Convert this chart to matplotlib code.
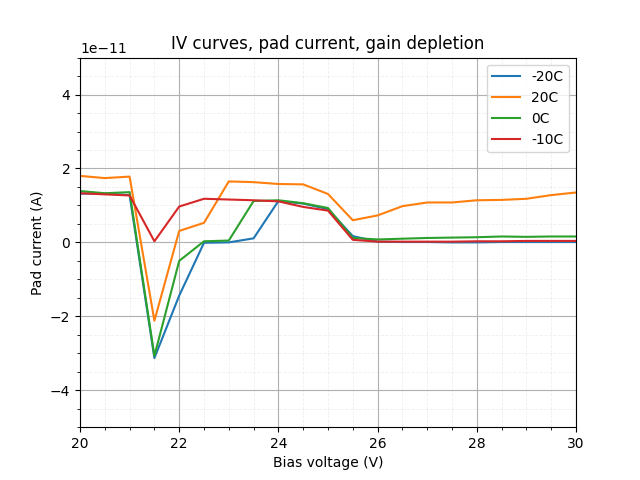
import numpy as np
import matplotlib
matplotlib.use("Agg")
import matplotlib.pyplot as plt

# bias voltage steps (V)
bias = [20.0, 20.5, 21.0, 21.5, 22.0, 22.5, 23.0, 23.5, 24.0, 24.5, 25.0,
        25.5, 26.0, 26.5, 27.0, 27.5, 28.0, 28.5, 29.0, 29.5, 30.0]

# pad current, units of 1e-11 A
i_m20 = [1.32, 1.32, 1.28, -3.13, -1.44, -0.01, 0.00, 0.11, 1.12, 1.05, 0.90,
         0.17, 0.02, 0.01, 0.01, 0.00, 0.00, 0.01, 0.01, 0.01, 0.01]
i_p20 = [1.80, 1.74, 1.78, -2.12, 0.31, 0.53, 1.65, 1.63, 1.58, 1.57, 1.31,
         0.60, 0.73, 0.98, 1.08, 1.08, 1.14, 1.15, 1.18, 1.28, 1.35]
i_0 = [1.39, 1.33, 1.36, -3.07, -0.50, 0.03, 0.05, 1.12, 1.14, 1.06, 0.93,
       0.12, 0.08, 0.10, 0.12, 0.13, 0.14, 0.16, 0.15, 0.16, 0.16]
i_m10 = [1.33, 1.30, 1.27, 0.03, 0.97, 1.18, 1.16, 1.14, 1.11, 0.96, 0.86,
         0.07, 0.02, 0.02, 0.02, 0.02, 0.03, 0.03, 0.04, 0.04, 0.04]

series = [("-20C", i_m20), ("20C", i_p20), ("0C", i_0), ("-10C", i_m10)]

fig, ax = plt.subplots(figsize=(6.4, 4.8), dpi=100)
for label, vals in series:
    ax.plot(bias, np.array(vals) * 1e-11, label=label)

ax.set_xlim(20, 30)
ax.set_ylim(-5e-11, 5e-11)
ax.minorticks_on()
ax.grid(which="major", color="#b0b0b0", lw=0.8)
ax.grid(which="minor", color="#b0b0b0", lw=0.6, ls="--", alpha=0.2)
ax.set_xlabel("Bias voltage (V)")
ax.set_ylabel("Pad current (A)")
ax.set_title("IV curves, pad current, gain depletion")
ax.legend(loc="upper right")
fig.savefig("out.png", dpi=100)
